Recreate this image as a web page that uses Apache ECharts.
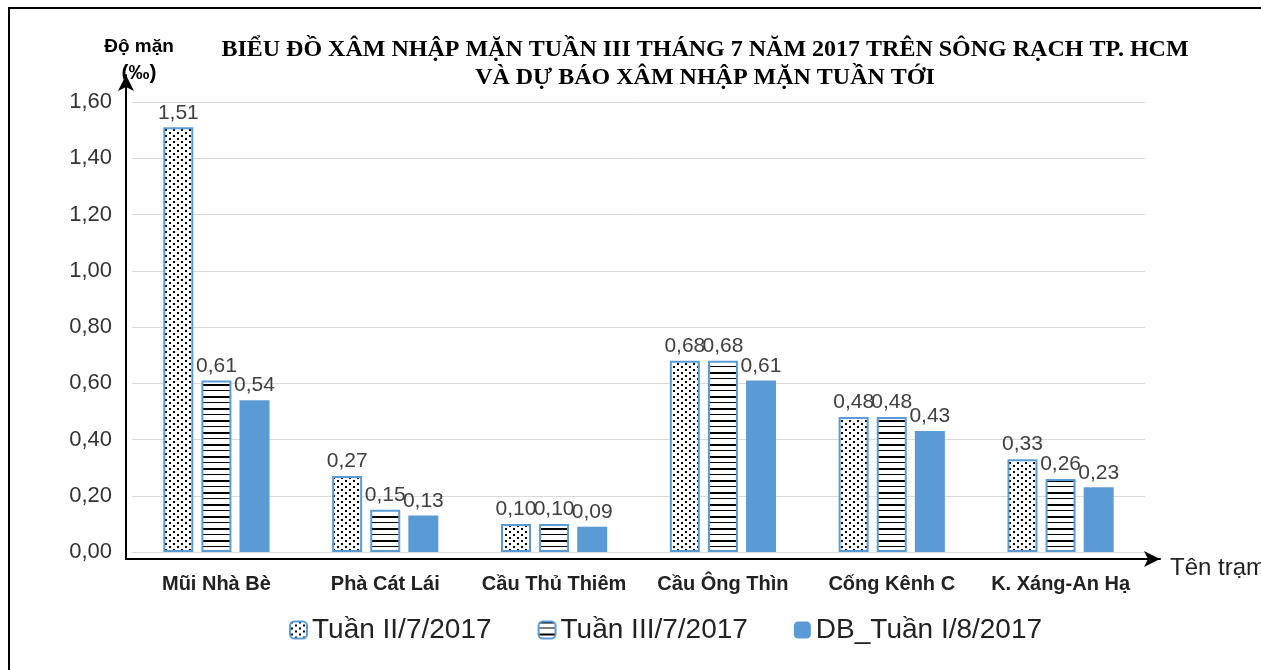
<!DOCTYPE html>
<html>
<head>
<meta charset="utf-8">
<script src="https://cdn.jsdelivr.net/npm/echarts@6/dist/echarts.min.js"></script>
<style>
  html, body { margin: 0; background: #fff; overflow: hidden; }
  #main { position: absolute; left: 0; top: 0; width: 1261px; height: 670px; }
  #frame { position: absolute; left: 8px; top: 7px; width: 1253px; height: 663px;
           border-left: 2px solid #000; border-top: 2px solid #000; box-sizing: border-box; }
</style>
</head>
<body>
<div id="main"></div>
<div id="frame"></div>
<script>
// dữ liệu
let stations = ["Mũi Nhà Bè", "Phà Cát Lái", "Cầu Thủ Thiêm", "Cầu Ông Thìn", "Cống Kênh C", "K. Xáng-An Hạ"]
let seriesNames = ["Tuần II/7/2017", "Tuần III/7/2017", "DB_Tuần I/8/2017"]
let tuan2 = [1.51, 0.27, 0.10, 0.68, 0.48, 0.33]
let tuan3 = [0.61, 0.15, 0.10, 0.68, 0.48, 0.26]
let duBao = [0.54, 0.13, 0.09, 0.61, 0.43, 0.23]

const blue = '#5B9BD5'

// tạo hoa văn chấm và sọc ngang
function makePattern(kind) {
    let c = document.createElement('canvas')
    let ctx = c.getContext('2d')
    if (kind === 'dots') {
        c.width = 8; c.height = 6
        ctx.fillStyle = '#fff'; ctx.fillRect(0, 0, 8, 6)
        ctx.fillStyle = '#000'
        ctx.fillRect(1, 0, 2, 2)
        ctx.fillRect(5, 3, 2, 2)
    } else {
        c.width = 4; c.height = 12
        ctx.fillStyle = '#fff'; ctx.fillRect(0, 0, 4, 12)
        ctx.fillStyle = '#000'
        ctx.fillRect(0, 0, 4, 2)
        ctx.fillRect(0, 6, 4, 1)
    }
    return { image: c, repeat: 'repeat' }
}

let fmt = v => v.toFixed(2).replace('.', ',')

let myChart = echarts.init(document.getElementById('main'))

let labelStyle = {
    show: true,
    position: 'top',
    distance: 4,
    color: '#404040',
    fontSize: 21,
    fontFamily: 'Liberation Sans',
    formatter: p => fmt(p.value)
}

let option = {
    animation: false,
    backgroundColor: '#fff',
    title: [
        {
            text: 'BIỂU ĐỒ XÂM NHẬP MẶN TUẦN III THÁNG 7 NĂM 2017 TRÊN SÔNG RẠCH TP. HCM\nVÀ DỰ BÁO XÂM NHẬP MẶN TUẦN TỚI',
            left: 700, top: 31, textAlign: 'center',
            textStyle: { fontFamily: 'Liberation Serif', fontWeight: 'bold', fontSize: 24, lineHeight: 28, color: '#000' }
        },
        {
            text: '{a|Độ mặn}\n{b|(‰)}',
            left: 134, top: 29, textAlign: 'center',
            textStyle: {
                rich: {
                    a: { fontFamily: 'Liberation Sans', fontWeight: 'bold', fontSize: 19, lineHeight: 26, color: '#000' },
                    b: { fontFamily: 'Liberation Sans', fontWeight: 'bold', fontSize: 21, lineHeight: 26, color: '#000' }
                }
            }
        },
        {
            text: 'Tên trạm',
            left: 1165, top: 551,
            textStyle: { fontFamily: 'Liberation Sans', fontWeight: 'normal', fontSize: 24, color: '#222' }
        }
    ],
    legend: {
        left: 284, top: 611,
        itemWidth: 17, itemHeight: 17, itemGap: 46,
        textStyle: { fontFamily: 'Liberation Sans', fontSize: 28, color: '#222' },
        data: seriesNames
    },
    grid: [
        { left: 132, right: 116, top: 102, bottom: 118 },
        { left: 126, right: 101, top: 75, bottom: 111 }
    ],
    xAxis: [
        {
            type: 'category', gridIndex: 0, data: stations,
            axisLine: { show: false }, axisTick: { show: false },
            axisLabel: { interval: 0, margin: 22, fontFamily: 'Liberation Sans', fontWeight: 'bold', fontSize: 20, color: '#222' }
        },
        {
            type: 'value', gridIndex: 1, min: 0, max: 1,
            axisLine: { show: true, symbol: ['none', 'arrow'], symbolSize: [12, 16], lineStyle: { color: '#000', width: 2 } },
            axisTick: { show: false }, axisLabel: { show: false }, splitLine: { show: false }
        }
    ],
    yAxis: [
        {
            type: 'value', gridIndex: 0, min: 0, max: 1.6, interval: 0.2,
            axisLine: { show: false }, axisTick: { show: false },
            axisLabel: { margin: 20, fontFamily: 'Liberation Sans', fontSize: 22, color: '#333', formatter: fmt },
            splitLine: { lineStyle: { color: '#d9d9d9', width: 1 } }
        },
        {
            type: 'value', gridIndex: 1, min: 0, max: 1,
            axisLine: { show: true, symbol: ['none', 'arrow'], symbolSize: [12, 16], lineStyle: { color: '#000', width: 2 } },
            axisTick: { show: false }, axisLabel: { show: false }, splitLine: { show: false }
        }
    ],
    series: [
        {
            name: seriesNames[0], type: 'bar', data: tuan2, barWidth: 30, barGap: '27%',
            itemStyle: { color: makePattern('dots'), borderColor: blue, borderWidth: 2 },
            label: labelStyle
        },
        {
            name: seriesNames[1], type: 'bar', data: tuan3, barWidth: 30, barGap: '27%',
            itemStyle: { color: makePattern('lines'), borderColor: blue, borderWidth: 2 },
            label: labelStyle
        },
        {
            name: seriesNames[2], type: 'bar', data: duBao, barWidth: 30, barGap: '27%',
            itemStyle: { color: blue },
            label: labelStyle
        }
    ]
}

myChart.setOption(option)
</script>
</body>
</html>
